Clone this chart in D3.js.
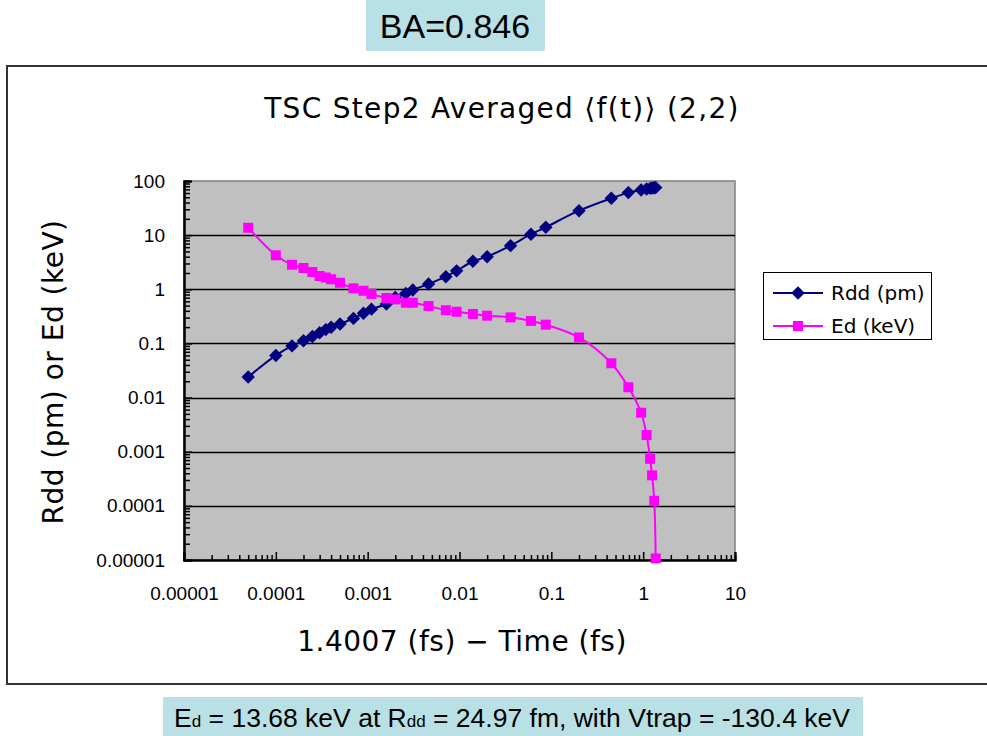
<!DOCTYPE html>
<html>
<head>
<meta charset="utf-8">
<script src="https://cdnjs.cloudflare.com/ajax/libs/d3/7.8.5/d3.min.js"></script>
<style>
  body { margin: 0; background: #fff; }
  svg { display: block; }
</style>
</head>
<body>
<div id="chart"></div>
<script>
'use strict';
// time before 1.4007 fs (fs)
var times = [5e-5, 1e-4, 1.5e-4, 2e-4, 2.5e-4, 3e-4, 3.5e-4, 4e-4, 5e-4, 7e-4, 9e-4, 1.1e-3,
             1.6e-3, 2e-3, 2.6e-3, 3.1e-3, 4.6e-3, 7.1e-3, 9.3e-3, 0.014, 0.02, 0.036, 0.06, 0.087,
             0.2, 0.45, 0.69, 0.95, 1.09, 1.19, 1.25, 1.32, 1.37];
// Rdd (pm)
var rdd = [0.024, 0.060, 0.090, 0.112, 0.134, 0.157, 0.18, 0.199, 0.229, 0.29, 0.36, 0.43,
           0.535, 0.71, 0.84, 0.97, 1.25, 1.71, 2.19, 3.29, 4.0, 6.4, 10.4, 14.0,
           28.3, 48, 61, 68, 71, 73, 74, 75, 75.5];
// Ed (keV)
var ed = [13.68, 4.25, 2.84, 2.47, 2.08, 1.76, 1.65, 1.53, 1.32, 1.04, 0.94, 0.82,
          0.69, 0.65, 0.565, 0.565, 0.49, 0.41, 0.385, 0.35, 0.325, 0.303, 0.26, 0.222,
          0.129, 0.043, 0.0155, 0.00525, 0.00203, 0.00074, 0.000366, 0.000124, 0.0000107];

var xTicks = [1e-5, 1e-4, 1e-3, 1e-2, 1e-1, 1, 10];
var xTickLabels = ['0.00001', '0.0001', '0.001', '0.01', '0.1', '1', '10'];
var yTicks = [1e-5, 1e-4, 1e-3, 1e-2, 1e-1, 1, 10, 100];
var yTickLabels = ['0.00001', '0.0001', '0.001', '0.01', '0.1', '1', '10', '100'];
var seriesNames = ['Rdd (pm)', 'Ed (keV)'];

var W = 987, H = 736;
var plot = { left: 184, right: 735, top: 181, bottom: 560 };
var dj = '"DejaVu Sans", "Noto Sans", sans-serif';
var ar = '"Liberation Sans", Arial, sans-serif';

var svg = d3.select('#chart').append('svg')
    .attr('width', W)
    .attr('height', H);

// outer chart frame
svg.append('rect')
    .attr('x', 7).attr('y', 66)
    .attr('width', 1000).attr('height', 618)
    .attr('fill', '#fff')
    .attr('stroke', '#333')
    .attr('stroke-width', 2);

// BA box at the top
svg.append('rect')
    .attr('x', 366).attr('y', 0).attr('width', 179).attr('height', 51)
    .attr('fill', '#b9e0e4');
svg.append('text')
    .attr('x', 455).attr('y', 38)
    .attr('text-anchor', 'middle')
    .style('font-family', ar).style('font-size', '34px')
    .text('BA=0.846');

// bottom note
svg.append('rect')
    .attr('x', 163).attr('y', 697).attr('width', 700).attr('height', 39)
    .attr('fill', '#b9e0e4');
var note = svg.append('text')
    .attr('x', 512).attr('y', 727)
    .attr('text-anchor', 'middle')
    .style('font-family', '"Liberation Sans Narrow", "Arial Narrow", ' + ar)
    .style('font-size', '26.5px');
note.append('tspan').text('E');
note.append('tspan').style('font-size', '17px').text('d');
note.append('tspan').text(' = 13.68 keV at R');
note.append('tspan').style('font-size', '17px').text('dd');
note.append('tspan').text(' = 24.97 fm, with Vtrap = -130.4 keV');

var x = d3.scaleLog().domain([1e-5, 10]).range([plot.left, plot.right]);
var y = d3.scaleLog().domain([1e-5, 100]).range([plot.bottom, plot.top]);

// plot background
svg.append('rect')
    .attr('x', plot.left).attr('y', plot.top)
    .attr('width', plot.right - plot.left)
    .attr('height', plot.bottom - plot.top)
    .attr('fill', '#c0c0c0')
    .attr('stroke', '#808080')
    .attr('stroke-width', 1.5);

// horizontal gridlines
svg.append('g').selectAll('line')
    .data(yTicks.slice(1, -1))
    .enter().append('line')
    .attr('x1', plot.left).attr('x2', plot.right)
    .attr('y1', function (d) { return Math.round(y(d)) + 0.5; })
    .attr('y2', function (d) { return Math.round(y(d)) + 0.5; })
    .attr('stroke', '#000')
    .attr('stroke-width', 1.3);

function minorTicks(lo, hi) {
    var out = [];
    for (var e = lo; e < hi; e++) {
        for (var m = 2; m <= 9; m++) out.push(m * Math.pow(10, e));
    }
    return out;
}

// x axis
var xAxis = svg.append('g')
    .attr('transform', 'translate(0,' + plot.bottom + ')');
xAxis.append('g')
    .call(d3.axisBottom(x).tickValues(minorTicks(-5, 1)).tickSize(-5).tickFormat(''));
xAxis.append('g')
    .call(d3.axisBottom(x).tickValues(xTicks).tickSize(-8).tickPadding(27)
        .tickFormat(function (d, i) { return xTickLabels[i]; }));
xAxis.selectAll('.domain').attr('stroke', '#000').attr('stroke-width', 2);
xAxis.selectAll('.tick line').attr('stroke-width', 1.5);
xAxis.selectAll('text')
    .style('font-family', ar).style('font-size', '19px').attr('fill', '#000');

// y axis
var yAxis = svg.append('g')
    .attr('transform', 'translate(' + plot.left + ',0)');
yAxis.append('g')
    .call(d3.axisLeft(y).tickValues(minorTicks(-5, 2)).tickSize(-6).tickFormat(''));
yAxis.append('g')
    .call(d3.axisLeft(y).tickValues(yTicks).tickSize(-8).tickPadding(19)
        .tickFormat(function (d, i) { return yTickLabels[i]; }));
yAxis.selectAll('.domain').attr('stroke', '#000').attr('stroke-width', 2);
yAxis.selectAll('.tick line').attr('stroke-width', 1.5);
yAxis.selectAll('text')
    .style('font-family', ar).style('font-size', '19px').attr('fill', '#000');

// series
var series = [
    { name: seriesNames[0], values: rdd, color: '#000080', shape: d3.symbolSquare, size: 90, rot: 45 },
    { name: seriesNames[1], values: ed, color: '#ff00ff', shape: d3.symbolSquare, size: 100, rot: 0 }
];

var line = d3.line()
    .x(function (d) { return x(d[0]); })
    .y(function (d) { return y(d[1]); })
    .curve(d3.curveCatmullRom.alpha(0.5));

series.forEach(function (s) {
    var pts = times.map(function (t, i) { return [t, s.values[i]]; });
    svg.append('path')
        .datum(pts)
        .attr('d', line)
        .attr('fill', 'none')
        .attr('stroke', s.color)
        .attr('stroke-width', 2);
    svg.append('g').selectAll('path')
        .data(pts)
        .enter().append('path')
        .attr('transform', function (d) {
            return 'translate(' + x(d[0]) + ',' + y(d[1]) + ') rotate(' + s.rot + ')';
        })
        .attr('d', d3.symbol().type(s.shape).size(s.size))
        .attr('fill', s.color);
});

// title
svg.append('text')
    .attr('x', 502).attr('y', 118)
    .attr('text-anchor', 'middle')
    .style('font-family', dj).style('font-size', '28px')
    .style('letter-spacing', '1.3px')
    .text('TSC Step2 Averaged \u27E8f(t)\u27E9 (2,2)');

// axis titles
svg.append('text')
    .attr('x', 462).attr('y', 651)
    .attr('text-anchor', 'middle')
    .style('font-family', dj).style('font-size', '28px')
    .style('letter-spacing', '0.5px')
    .text('1.4007 (fs) − Time (fs)');
svg.append('text')
    .attr('transform', 'translate(63,372) rotate(-90)')
    .attr('text-anchor', 'middle')
    .style('font-family', dj).style('font-size', '28px')
    .style('letter-spacing', '0.5px')
    .text('Rdd (pm) or Ed (keV)');

// legend
var legend = svg.append('g');
legend.append('rect')
    .attr('x', 763.5).attr('y', 272.5).attr('width', 168).attr('height', 67)
    .attr('fill', '#fff').attr('stroke', '#000').attr('stroke-width', 1);
series.forEach(function (s, i) {
    var ly = 293 + i * 33;
    legend.append('line')
        .attr('x1', 773).attr('x2', 823).attr('y1', ly).attr('y2', ly)
        .attr('stroke', s.color).attr('stroke-width', 2);
    legend.append('path')
        .attr('transform', 'translate(798,' + ly + ') rotate(' + s.rot + ')')
        .attr('d', d3.symbol().type(s.shape).size(s.size))
        .attr('fill', s.color);
    legend.append('text')
        .attr('x', 831).attr('y', ly + 7)
        .style('font-family', dj).style('font-size', '20px')
        .text(s.name);
});
</script>
</body>
</html>
